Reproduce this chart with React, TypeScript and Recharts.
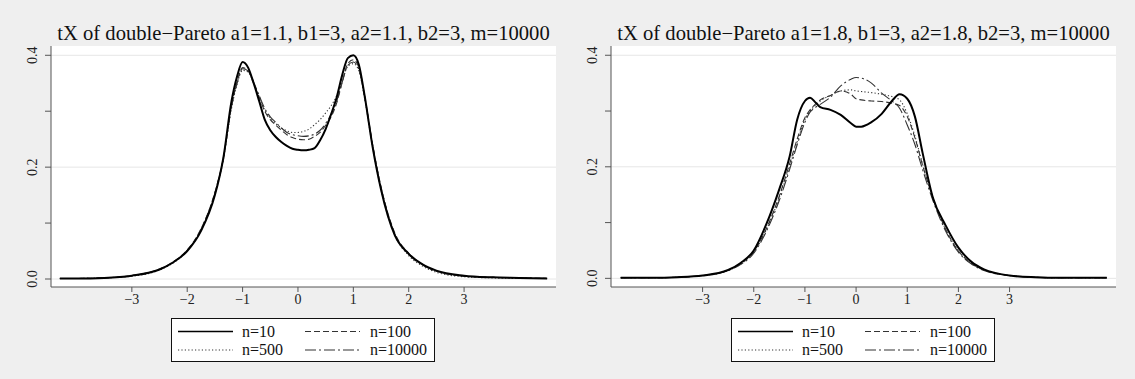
import React from 'react';
import { LineChart, Line, XAxis, YAxis, CartesianGrid } from 'recharts';

// grid points of the density estimates
const leftX = [-4.3, -4, -3.5, -3, -2.5, -2.25, -2, -1.75, -1.5, -1.35, -1.2, -1.1, -1.0, -0.9, -0.8, -0.7, -0.6, -0.5, -0.4, -0.3, -0.2, -0.1, 0, 0.1, 0.2, 0.3, 0.4, 0.5, 0.6, 0.7, 0.8, 0.9, 1.0, 1.1, 1.2, 1.35, 1.5, 1.75, 2, 2.25, 2.5, 3, 3.5, 4, 4.5];
const leftN10 = [0.001, 0.001, 0.002, 0.006, 0.017, 0.03, 0.05, 0.086, 0.15, 0.215, 0.318, 0.362, 0.388, 0.378, 0.35, 0.318, 0.285, 0.266, 0.254, 0.245, 0.238, 0.233, 0.231, 0.23, 0.231, 0.234, 0.248, 0.268, 0.295, 0.325, 0.365, 0.395, 0.4, 0.383, 0.33, 0.235, 0.16, 0.078, 0.045, 0.026, 0.015, 0.006, 0.003, 0.002, 0.001];
const leftN100 = [0.001, 0.001, 0.002, 0.006, 0.018, 0.031, 0.052, 0.09, 0.155, 0.215, 0.31, 0.352, 0.378, 0.372, 0.35, 0.325, 0.3, 0.285, 0.275, 0.266, 0.258, 0.253, 0.25, 0.249, 0.25, 0.255, 0.262, 0.275, 0.29, 0.315, 0.352, 0.385, 0.392, 0.378, 0.33, 0.24, 0.165, 0.082, 0.046, 0.026, 0.014, 0.005, 0.003, 0.002, 0.001];
const leftN500 = [0.001, 0.001, 0.002, 0.005, 0.016, 0.029, 0.05, 0.088, 0.152, 0.212, 0.305, 0.348, 0.373, 0.37, 0.35, 0.325, 0.302, 0.288, 0.278, 0.27, 0.265, 0.262, 0.262, 0.264, 0.268, 0.276, 0.285, 0.297, 0.31, 0.328, 0.355, 0.38, 0.385, 0.372, 0.325, 0.235, 0.16, 0.078, 0.042, 0.023, 0.012, 0.004, 0.002, 0.001, 0.001];
const leftN10000 = [0.001, 0.001, 0.002, 0.006, 0.017, 0.03, 0.051, 0.089, 0.154, 0.214, 0.308, 0.35, 0.376, 0.372, 0.352, 0.328, 0.305, 0.29, 0.28, 0.27, 0.262, 0.258, 0.256, 0.255, 0.256, 0.259, 0.266, 0.278, 0.295, 0.318, 0.352, 0.382, 0.388, 0.375, 0.328, 0.238, 0.163, 0.08, 0.044, 0.025, 0.014, 0.005, 0.003, 0.002, 0.001];

const rightX = [-4.6, -4, -3.5, -3, -2.5, -2.25, -2, -1.75, -1.5, -1.3, -1.15, -1.0, -0.9, -0.8, -0.7, -0.5, -0.3, -0.1, 0, 0.1, 0.3, 0.5, 0.7, 0.85, 1.0, 1.15, 1.3, 1.5, 1.75, 2, 2.25, 2.5, 3, 3.5, 4, 4.5, 4.9];
const rightN10 = [0.001, 0.001, 0.002, 0.005, 0.015, 0.028, 0.05, 0.098, 0.16, 0.218, 0.285, 0.318, 0.324, 0.316, 0.307, 0.302, 0.293, 0.278, 0.272, 0.272, 0.28, 0.295, 0.318, 0.33, 0.322, 0.29, 0.225, 0.145, 0.095, 0.055, 0.03, 0.016, 0.005, 0.002, 0.001, 0.001, 0.001];
const rightN100 = [0.001, 0.001, 0.002, 0.005, 0.015, 0.027, 0.048, 0.09, 0.148, 0.205, 0.25, 0.288, 0.302, 0.312, 0.32, 0.328, 0.336, 0.33, 0.322, 0.32, 0.318, 0.317, 0.314, 0.31, 0.29, 0.252, 0.203, 0.145, 0.088, 0.049, 0.027, 0.015, 0.005, 0.002, 0.001, 0.001, 0.001];
const rightN500 = [0.001, 0.001, 0.002, 0.005, 0.014, 0.026, 0.047, 0.088, 0.145, 0.2, 0.245, 0.285, 0.3, 0.31, 0.318, 0.328, 0.336, 0.338, 0.336, 0.335, 0.333, 0.33, 0.326, 0.32, 0.295, 0.255, 0.205, 0.145, 0.088, 0.05, 0.027, 0.015, 0.005, 0.002, 0.001, 0.001, 0.001];
const rightN10000 = [0.001, 0.001, 0.002, 0.005, 0.014, 0.025, 0.045, 0.085, 0.14, 0.195, 0.24, 0.28, 0.298, 0.306, 0.312, 0.325, 0.345, 0.357, 0.36, 0.359, 0.35, 0.332, 0.318, 0.305, 0.275, 0.24, 0.195, 0.14, 0.085, 0.047, 0.026, 0.014, 0.005, 0.002, 0.001, 0.001, 0.001];

const xTicks = [-3, -2, -1, 0, 1, 2, 3];
const yTicks = [0, 0.1, 0.2, 0.3, 0.4];
const yLabelled = [0, 0.2, 0.4];
const seriesNames = ['n=10', 'n=100', 'n=500', 'n=10000'];

const leftTitle = 'tX of double\u2212Pareto a1=1.1, b1=3, a2=1.1, b2=3, m=10000';
const rightTitle = 'tX of double\u2212Pareto a1=1.8, b1=3, a2=1.8, b2=3, m=10000';

const FONT = '"Liberation Serif", "Times New Roman", serif';
const AXIS = '#555';

const styles: Record<string, { stroke: string; width: number; dash?: string }> = {
  'n=10': { stroke: '#000', width: 2 },
  'n=100': { stroke: '#333', width: 1.1, dash: '6 3' },
  'n=500': { stroke: '#333', width: 1.1, dash: '1.2 2.2' },
  'n=10000': { stroke: '#333', width: 1.1, dash: '11 3 2 3' },
};

const buildRows = (xs: number[], cols: number[][]) =>
  xs.map((x, i) => {
    const row: Record<string, number> = { x };
    seriesNames.forEach((n, k) => (row[n] = cols[k][i]));
    return row;
  });

const leftRows = buildRows(leftX, [leftN10, leftN100, leftN500, leftN10000]);
const rightRows = buildRows(rightX, [rightN10, rightN100, rightN500, rightN10000]);

const fmtX = (v: number) => (v < 0 ? '\u2212' + Math.abs(v) : String(v));

const YTick = (props: any) => {
  const { x, y, payload } = props;
  const v = payload.value;
  if (!yLabelled.some((l) => Math.abs(l - v) < 1e-9)) return null;
  const bx = x - 6;
  return (
    <text x={bx} y={y} transform={`rotate(-90 ${bx} ${y})`} textAnchor="middle"
      fontFamily={FONT} fontSize={14} fill="#222">
      {v.toFixed(1)}
    </text>
  );
};

const LegendBox = ({ left }: { left: number }) => {
  const cols = [
    { line: 7, text: 71 },
    { line: 134, text: 199 },
  ];
  return (
    <svg width={265} height={45} style={{ position: 'absolute', left, top: 318 }}>
      <rect x={0.5} y={0.5} width={263} height={43} fill="#fff" stroke="#111" />
      {seriesNames.map((n, i) => {
        const c = cols[i % 2];
        const cy = i < 2 ? 13.5 : 32;
        const s = styles[n];
        return (
          <g key={n}>
            <line x1={c.line} x2={c.line + 55} y1={cy} y2={cy} stroke={s.stroke}
              strokeWidth={n === 'n=10' ? 1.3 : 1.1} strokeDasharray={s.dash} />
            <text x={c.text} y={cy + 5} fontFamily={FONT} fontSize={16} fill="#111">{n}</text>
          </g>
        );
      })}
    </svg>
  );
};

interface PanelProps {
  left: number;
  width: number;
  title: string;
  rows: Record<string, number>[];
  xDomain: [number, number];
  yDomain: [number, number];
  yWidth: number;
  right: number;
  legendLeft: number;
}

const Panel = ({ left, width, title, rows, xDomain, yDomain, yWidth, right, legendLeft }: PanelProps) => {
  const plotCenter = (yWidth + (width - right)) / 2;
  return (
    <>
      <div style={{ position: 'absolute', left, top: 0, width, height: 379 }}>
        <div style={{ position: 'absolute', left: plotCenter - 300, width: 600, top: 21, lineHeight: '24px',
          textAlign: 'center', fontFamily: FONT, fontSize: 20.6, color: '#111', whiteSpace: 'nowrap' }}>
          {title}
        </div>
        <LineChart width={width} height={379} data={rows}
          margin={{ top: 46, right, bottom: 62, left: 0 }}>
          <CartesianGrid vertical={false} horizontalValues={yLabelled} stroke="#e6e6e6" fill="#fff" />
          <XAxis dataKey="x" type="number" domain={xDomain} ticks={xTicks} allowDataOverflow
            interval={0} height={30} tickSize={5} tickFormatter={fmtX}
            stroke={AXIS} tick={{ fill: '#222', fontSize: 14, fontFamily: FONT }} />
          <YAxis type="number" domain={yDomain} ticks={yTicks} allowDataOverflow interval={0}
            width={yWidth} tickSize={6} stroke={AXIS} tick={<YTick />} />
          {['n=100', 'n=500', 'n=10000', 'n=10'].map((n) => (
            <Line key={n} dataKey={n} name={n} type="monotone" dot={false} isAnimationActive={false}
              stroke={styles[n].stroke} strokeWidth={styles[n].width} strokeDasharray={styles[n].dash} />
          ))}
        </LineChart>
      </div>
      <LegendBox left={legendLeft} />
    </>
  );
};

export default function App() {
  return (
    <div style={{ position: 'absolute', left: 0, top: 0, width: 1135, height: 379, background: '#efefef', overflow: 'hidden' }}>
      <Panel left={0} width={567} title={leftTitle} rows={leftRows}
        xDomain={[-4.46, 4.66]} yDomain={[-0.0143, 0.4166]} yWidth={51} right={11} legendLeft={171} />
      <Panel left={567} width={568} title={rightTitle} rows={rightRows}
        xDomain={[-4.79, 5.08]} yDomain={[-0.0155, 0.4166]} yWidth={44} right={19} legendLeft={731} />
    </div>
  );
}
